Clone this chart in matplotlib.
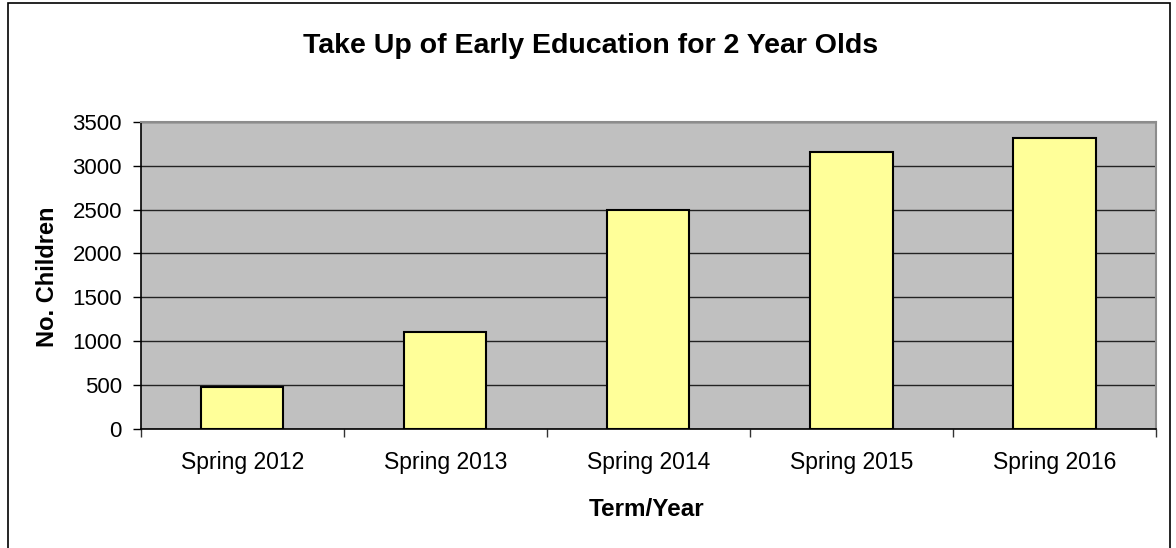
import matplotlib
matplotlib.use("Agg")
import matplotlib.pyplot as plt
from matplotlib.patches import Rectangle
import numpy as np

plt.rcParams['font.family'] = ['Liberation Sans', 'DejaVu Sans']

terms = ["Spring 2012", "Spring 2013", "Spring 2014", "Spring 2015", "Spring 2016"]
children = [475, 1100, 2500, 3155, 3310]
yticks = [0, 500, 1000, 1500, 2000, 2500, 3000, 3500]

W, H = 1176, 548
fig = plt.figure(figsize=(W / 100, H / 100), dpi=100)

# outer chart border (bottom edge runs off the picture)
fig.patches.append(Rectangle((8 / W, -0.02), (1170 - 8) / W, 1.02 - 3 / H,
                             transform=fig.transFigure, fill=False,
                             edgecolor="black", linewidth=1.2))

ax = fig.add_axes([140.7 / W, 1 - 429 / H, (1156 - 140.7) / W, (429 - 121.7) / H])
ax.set_facecolor("#C0C0C0")

x = np.arange(len(terms))
ax.bar(x, children, width=0.405, color="#FFFF99", edgecolor="black",
       linewidth=1.5, zorder=3)

ax.set_xlim(-0.5, len(terms) - 0.5)
ax.set_ylim(0, 3500)
ax.set_yticks(yticks)
ax.yaxis.grid(True, color="#222222", linewidth=1.0, zorder=1)
ax.set_axisbelow(True)

ax.set_xticks(x)
ax.set_xticklabels(terms, fontsize=16.5)
ax.set_xticks(np.arange(-0.5, len(terms)), minor=True)
ax.tick_params(axis="x", which="major", length=0, pad=16)
ax.tick_params(axis="x", which="minor", length=5.5, width=1, direction="out", color="#333333")
ax.tick_params(axis="y", labelsize=16, length=5.5, width=1, direction="out", pad=8)

for side in ["top", "right"]:
    ax.spines[side].set_color("#8C8C8C")
    ax.spines[side].set_linewidth(1.5)
for side in ["left", "bottom"]:
    ax.spines[side].set_color("black")
    ax.spines[side].set_linewidth(1.2)

fig.text(591 / W, 1 - 52.7 / H, "Take Up of Early Education for 2 Year Olds",
         ha="center", va="baseline", fontsize=20.5, fontweight="bold")
fig.text(647 / W, 1 - 516 / H, "Term/Year", ha="center", va="baseline",
         fontsize=17.5, fontweight="bold")
fig.text(47 / W, 1 - 277 / H, "No. Children", ha="center", va="center",
         rotation=90, fontsize=17, fontweight="bold")

fig.savefig("out.png", dpi=100)
